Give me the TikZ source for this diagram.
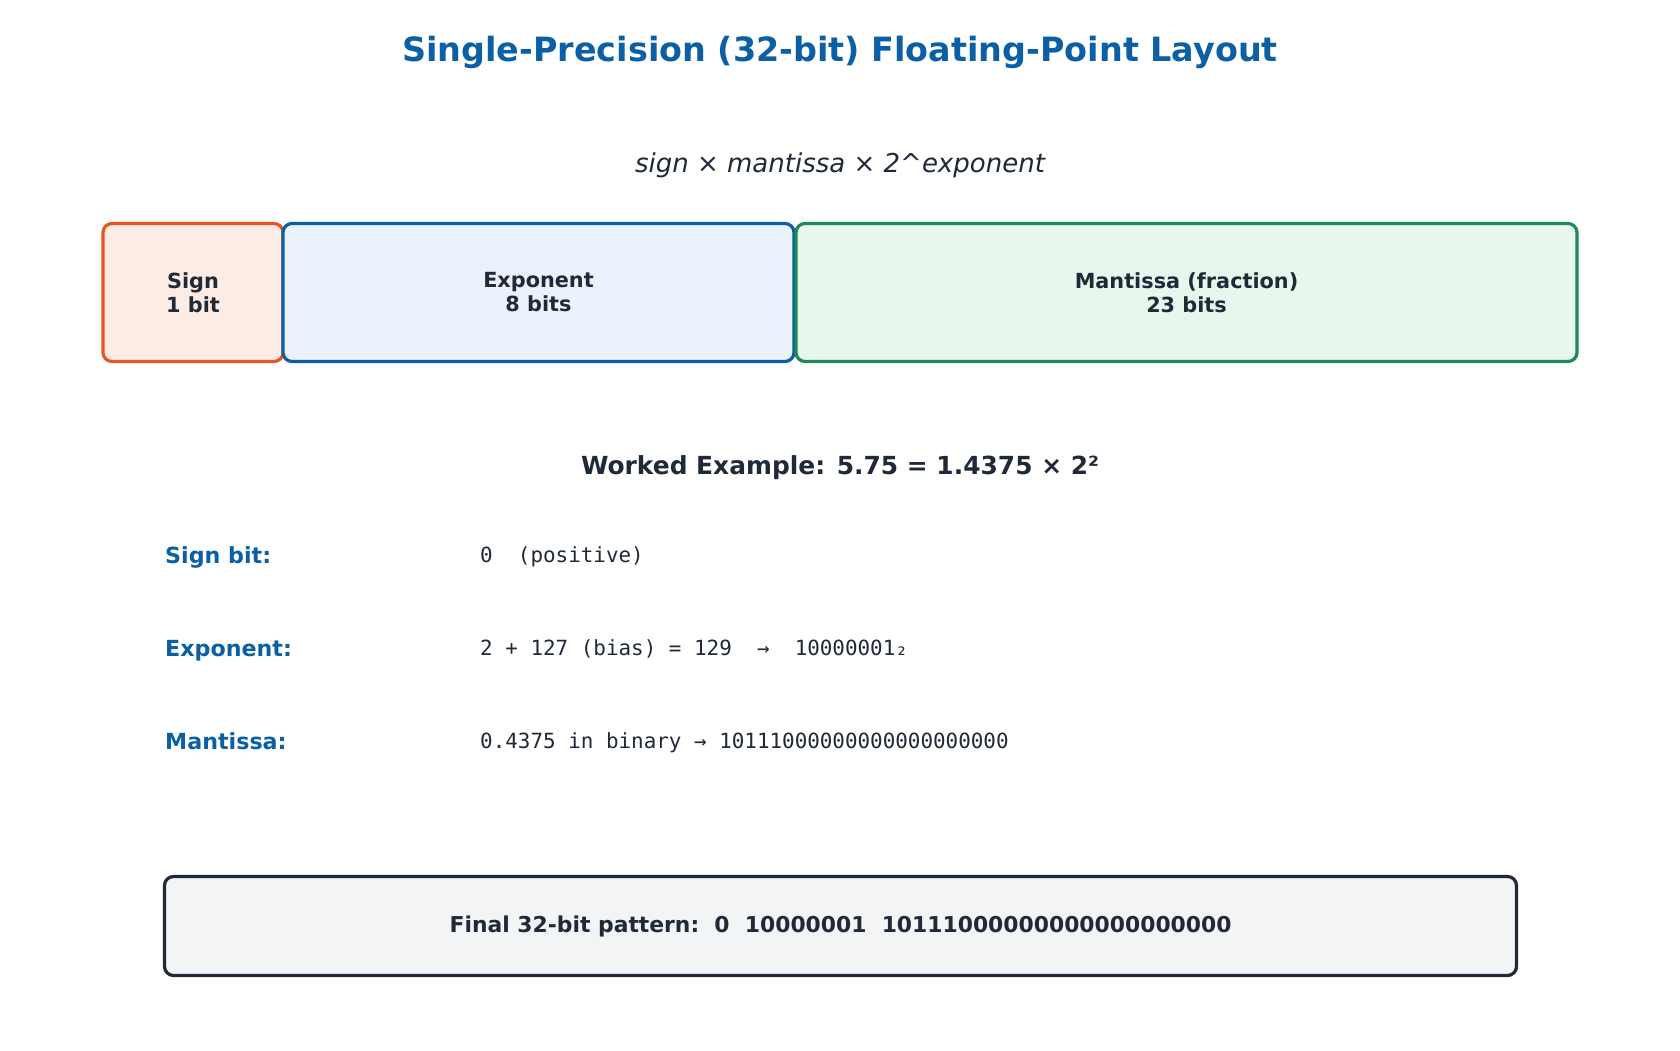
\documentclass[tikz,border=0pt]{standalone}
\usepackage{fontspec}
\setmainfont{DejaVu Sans}[BoldFont={DejaVu Sans Bold},ItalicFont={DejaVu Sans Oblique}]
\setmonofont{DejaVu Sans Mono}
\definecolor{headblue}{HTML}{0B5FA5}
\definecolor{ink}{HTML}{1F2937}
\definecolor{signline}{HTML}{E8561F}
\definecolor{signfill}{HTML}{FDECE6}
\definecolor{expfill}{HTML}{EAF2FB}
\definecolor{mantline}{HTML}{1E8A57}
\definecolor{mantfill}{HTML}{E8F6EE}
\definecolor{finalfill}{HTML}{F2F4F6}

\begin{document}
\begin{tikzpicture}[x=1pt,y=-1pt,
  field/.style={draw, line width=3.2pt, rounded corners=9pt, align=center, text=ink,
    inner sep=0pt, font=\fontsize{20.8}{24}\selectfont\bfseries},
  rowname/.style={anchor=base west, inner sep=0pt, text=headblue, font=\fontsize{22.2}{26}\selectfont\bfseries},
  rowvalue/.style={anchor=base west, inner sep=0pt, text=ink, font=\fontsize{20.9}{24}\selectfont\ttfamily}]
\useasboundingbox (0,0) rectangle (1680,1050);

\node[anchor=base, text=headblue, font=\fontsize{33.4}{38}\selectfont\bfseries] (title) at (840,61)
  {Single-Precision (32-bit) Floating-Point Layout};
\node[anchor=base, text=ink, font=\fontsize{26}{30}\selectfont\itshape] (formula) at (840,172.5)
  {sign × mantissa × 2\textasciicircum exponent};

% bit fields
\node[field, color=signline, fill=signfill, text=ink, minimum width=180pt, minimum height=138pt] (sign) at (193,292.5)
  {Sign\\1 bit};
\node[field, color=headblue, fill=expfill, text=ink, minimum width=511pt, minimum height=138pt] (exponent) at (538.5,292.5)
  {Exponent\\8 bits};
\node[field, color=mantline, fill=mantfill, text=ink, minimum width=781pt, minimum height=138pt] (mantissa) at (1186.5,292.5)
  {Mantissa (fraction)\\23 bits};

\node[anchor=base, text=ink, font=\fontsize{24.9}{29}\selectfont\bfseries] (worked) at (840,474)
  {Worked Example: 5.75 = 1.4375 × 2²};

\node[rowname] (signname) at (165,563) {Sign bit:};
\node[rowvalue] (signval) at (480,562) {0~~(positive)};
\node[rowname] (expname) at (165,656) {Exponent:};
\node[rowvalue] (expval) at (480,655) {2 + 127 (bias) = 129~~→~~10000001₂};
\node[rowname] (mantname) at (165,749) {Mantissa:};
\node[rowvalue] (mantval) at (480,748) {0.4375 in binary → 10111000000000000000000};

\node[field, color=ink, fill=finalfill, text=ink, minimum width=1352pt, minimum height=99pt,
  font=\fontsize{21.85}{26}\selectfont\bfseries] (final) at (840.5,926)
  {Final 32-bit pattern:~~0~~10000001~~10111000000000000000000};
\end{tikzpicture}
\end{document}
